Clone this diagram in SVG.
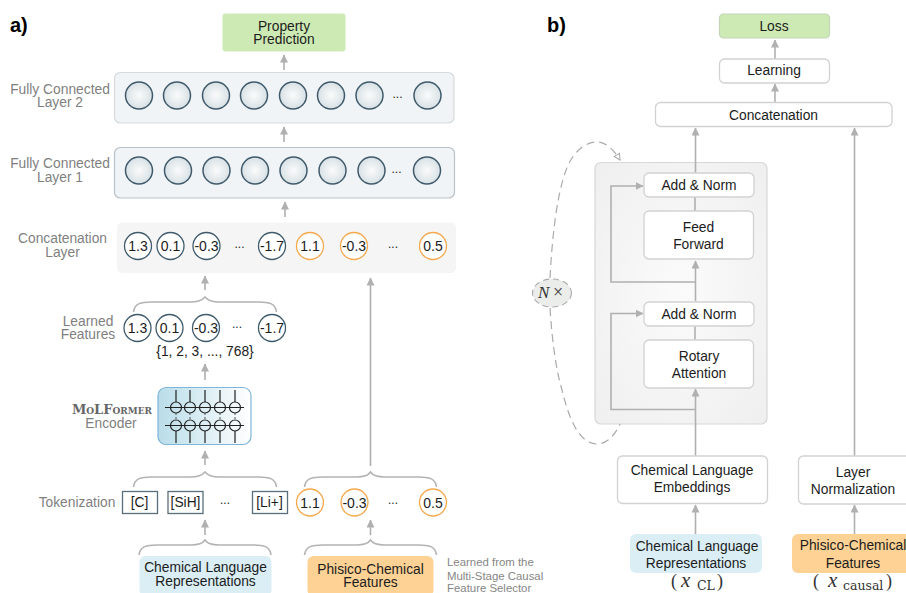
<svg xmlns="http://www.w3.org/2000/svg" width="906" height="593" viewBox="0 0 906 593">
<style>
text{font-family:"Liberation Sans",Arial,sans-serif;font-size:13.800px;fill:#1c1c1c;text-anchor:middle}
.g{fill:#7f7f7f}
.h{font-size:20px;font-weight:bold;fill:#000;text-anchor:start}
.s{font-size:11.400px;fill:#868686;text-anchor:start}
.v{font-size:14px}
.d{font-size:12px}
.m{font-family:"DejaVu Serif","Liberation Serif",serif;font-size:12.500px;fill:#333;text-anchor:start}
.i{font-family:"Liberation Serif",serif;font-style:italic;font-size:21px}
.p{font-family:"Liberation Serif",serif;font-size:18px}
.n{fill:url(#ng);stroke:#3f5a6b;stroke-width:1.5}
.c{fill:#fff;stroke:#3f5a6b;stroke-width:1.3}
.o{fill:#fff;stroke:#f5a94e;stroke-width:1.3}
.t{fill:#fff;stroke:#5a6f7c;stroke-width:1.3}
.b{fill:#fff;stroke:#d2d2d2;stroke-width:1.3}
.l{fill:none;stroke:#b0b0b0;stroke-width:1.6}
.br{fill:none;stroke:#b3b3b3;stroke-width:1.600}
.e{stroke:#222;stroke-width:1.200;fill:none}
.w{stroke:#222;stroke-width:1.200;fill:none}
.q{fill:none;stroke:#aaa;stroke-width:1.200;stroke-dasharray:8 5}
</style>
<defs>
<radialGradient id="ng"><stop offset="0" stop-color="#fafbfb"/><stop offset="1" stop-color="#d8e1e5"/></radialGradient>
<linearGradient id="eg"><stop offset="0" stop-color="#b9dde9"/><stop offset="1" stop-color="#ffffff"/></linearGradient>
<radialGradient id="bg" r=".75"><stop offset="0" stop-color="#fbfbfb"/><stop offset="1" stop-color="#eeeeee"/></radialGradient>
<marker id="a" markerUnits="userSpaceOnUse" markerWidth="9" markerHeight="9" refX="7.500" refY="4" orient="auto"><path d="M0 0L8 4L0 8Z" fill="#b0b0b0"/></marker>
<marker id="d" markerUnits="userSpaceOnUse" markerWidth="9" markerHeight="9" refX="7" refY="4" orient="auto"><path d="M1 1L7 4L1 7Z" fill="#fff" stroke="#aaa"/></marker>
<path id="br132" d="M0 15C1 6 8 5 18 5H52C60 5 64 3 66 0C68 3 72 5 80 5H114C124 5 131 6 132 15" class="br"/>
<path id="br143" d="M0 15C1 6 8 5 18 5H57C65 5 69 3 71.500 0C74 3 78 5 86 5H125C135 5 142 6 143 15" class="br"/>
<g id="nn"><circle r="13.500" class="n"/></g>
</defs>

<text class="h" x="10" y="32">a)</text>
<text class="h" x="547" y="32">b)</text>

<g id="connectors">
<path class="l" marker-end="url(#a)" d="M284 70V55"/>
<path class="l" marker-end="url(#a)" d="M284 142V127"/>
<path class="l" marker-end="url(#a)" d="M285 217V202"/>
<path class="l" marker-end="url(#a)" d="M205 290V276"/>
<path class="l" marker-end="url(#a)" d="M370.500 466V278"/>
<path class="l" marker-end="url(#a)" d="M205 380V364"/>
<path class="l" marker-end="url(#a)" d="M205 465V451"/>
<path class="l" marker-end="url(#a)" d="M205 535V520"/>
<path class="l" marker-end="url(#a)" d="M370.500 535V520"/>
<use href="#br143" x="133.500" y="297"/>
<use href="#br143" x="133.500" y="472"/>
<use href="#br132" x="139" y="540"/>
<use href="#br132" x="304.500" y="472"/>
<use href="#br132" x="304.500" y="540"/>
</g>

<g id="property"><rect x="222.500" y="13.500" width="123" height="38" rx="3" fill="#cdeab5"/><text x="284" y="31">Property</text><text x="284" y="44">Prediction</text></g>

<g id="fc2">
<text class="g" x="60" y="94">Fully Connected</text><text class="g" x="60" y="107">Layer 2</text>
<rect x="114.500" y="72.500" width="339.500" height="50.500" rx="6" fill="#f1f4f6" stroke="#d5dadd" stroke-width="1.200"/>
<use href="#nn" x="139" y="95.500"/><use href="#nn" x="177" y="95.500"/><use href="#nn" x="216" y="95.500"/><use href="#nn" x="254" y="95.500"/><use href="#nn" x="293" y="95.500"/><use href="#nn" x="331" y="95.500"/><use href="#nn" x="369.500" y="95.500"/><use href="#nn" x="427.500" y="95.500"/>
<text class="d" x="397.500" y="98">...</text>
</g>
<g id="fc1">
<text class="g" x="60" y="168">Fully Connected</text><text class="g" x="60" y="182">Layer 1</text>
<rect x="114.500" y="147.500" width="340" height="50.500" rx="6" fill="#f1f4f6" stroke="#b9c2c8" stroke-width="1.200"/>
<use href="#nn" x="139" y="170.500"/><use href="#nn" x="178" y="170.500"/><use href="#nn" x="216.500" y="170.500"/><use href="#nn" x="255" y="170.500"/><use href="#nn" x="293.500" y="170.500"/><use href="#nn" x="332.500" y="170.500"/><use href="#nn" x="371.500" y="170.500"/><use href="#nn" x="427" y="170.500"/>
<text class="d" x="396.500" y="173">...</text>
</g>
<g id="concat-layer">
<text class="g" x="62.500" y="243">Concatenation</text><text class="g" x="62.500" y="257">Layer</text>
<rect x="117" y="222.500" width="339" height="50.500" rx="5" fill="#f5f5f5"/>
<circle class="c" cx="138" cy="246" r="13.500"/><text class="v" x="138" y="251">1.3</text>
<circle class="c" cx="170.500" cy="246" r="13.500"/><text class="v" x="170.500" y="251">0.1</text>
<circle class="c" cx="206.500" cy="246" r="13.500"/><text class="v" x="206.500" y="251">-0.3</text>
<text class="d" x="239.500" y="248">...</text>
<circle class="c" cx="272" cy="246" r="13.500"/><text class="v" x="272" y="251">-1.7</text>
<circle class="o" cx="310" cy="246" r="13.500"/><text class="v" x="310" y="251">1.1</text>
<circle class="o" cx="354" cy="246" r="13.500"/><text class="v" x="354" y="251">-0.3</text>
<text class="d" x="393" y="248">...</text>
<circle class="o" cx="433" cy="246" r="13.500"/><text class="v" x="433" y="251">0.5</text>
</g>
<g id="learned">
<text class="g" x="88" y="326">Learned</text><text class="g" x="88" y="339">Features</text>
<circle class="c" cx="137.500" cy="328" r="13.500"/><text class="v" x="137.500" y="333">1.3</text>
<circle class="c" cx="169.500" cy="328" r="13.500"/><text class="v" x="169.500" y="333">0.1</text>
<circle class="c" cx="206" cy="328" r="13.500"/><text class="v" x="206" y="333">-0.3</text>
<text class="d" x="237" y="328">...</text>
<circle class="c" cx="272" cy="328" r="13.500"/><text class="v" x="272" y="333">-1.7</text>
<text x="205" y="356">{1, 2, 3, ..., 768}</text>
</g>
<g id="encoder">
<text x="112" y="414" style="font-family:'DejaVu Serif','Liberation Serif',serif;font-size:13px;font-weight:bold;fill:#666;font-variant:small-caps">MoLFormer</text>
<text class="g" x="111" y="428">Encoder</text>
<rect x="158" y="387.500" width="93" height="57" rx="8" fill="url(#eg)" stroke="#7fb5da" stroke-width="1.200"/>
<path class="e" d="M176 390V402M190 390V402M205 390V402M220 390V402M235 390V402M176 431V443M190 431V443M205 431V443M220 431V443M235 431V443M165 407.500H244M165 425.500H244"/>
<path fill="none" stroke="#555" stroke-width="1" stroke-dasharray="2 2" d="M176 413V420M190 413V420M205 413V420M220 413V420M235 413V420"/>
<circle class="w" cx="176" cy="407.500" r="5.500"/><circle class="w" cx="190" cy="407.500" r="5.500"/><circle class="w" cx="205" cy="407.500" r="5.500"/><circle class="w" cx="220" cy="407.500" r="5.500"/><circle class="w" cx="235" cy="407.500" r="5.500"/>
<circle class="w" cx="176" cy="425.500" r="5.500"/><circle class="w" cx="190" cy="425.500" r="5.500"/><circle class="w" cx="205" cy="425.500" r="5.500"/><circle class="w" cx="220" cy="425.500" r="5.500"/><circle class="w" cx="235" cy="425.500" r="5.500"/>
</g>
<g id="tokenization">
<text class="g" x="77" y="507">Tokenization</text>
<rect class="t" x="122.500" y="491.500" width="35" height="22"/><text x="139.500" y="507">[C]</text>
<rect class="t" x="168" y="491.500" width="35" height="22"/><text x="185.500" y="507">[SiH]</text>
<text class="d" x="225" y="504">...</text>
<rect class="t" x="252.500" y="491.500" width="35" height="22"/><text x="269.500" y="507">[Li+]</text>
</g>
<g id="causal-values">
<circle class="o" cx="310" cy="502.500" r="13.500"/><text class="v" x="310" y="507.500">1.1</text>
<circle class="o" cx="354.500" cy="502.500" r="13.500"/><text class="v" x="354.500" y="507.500">-0.3</text>
<text class="d" x="393" y="504">...</text>
<circle class="o" cx="433" cy="502.500" r="13.500"/><text class="v" x="433" y="507.500">0.5</text>
</g>
<g id="chem-a"><rect x="139.500" y="556" width="132" height="40" rx="6" fill="#dbeef5"/><text x="205.500" y="572">Chemical Language</text><text x="205.500" y="586">Representations</text></g>
<g id="phys-a"><rect x="307.500" y="556" width="126" height="40" rx="6" fill="#fdd294"/><text x="370.500" y="574">Phisico-Chemical</text><text x="370.500" y="587">Features</text></g>
<g id="note"><text class="s" x="447" y="566">Learned from the</text><text class="s" x="447" y="580">Multi-Stage Causal</text><text class="s" x="447" y="592">Feature Selector</text></g>

<g id="block"><rect x="595" y="162.500" width="172" height="261.500" rx="6" fill="url(#bg)" stroke="#d8d8d8" stroke-width="1.200"/></g>

<g id="connectors-b">
<path class="l" marker-end="url(#a)" d="M775 59V40"/>
<path class="l" marker-end="url(#a)" d="M775 102V84"/>
<path class="l" marker-end="url(#a)" d="M695.500 173V128"/>
<path class="l" d="M695 197V211"/>
<path class="l" marker-end="url(#a)" d="M695.500 301V261"/>
<path class="l" d="M695 326V340"/>
<path class="l" marker-end="url(#a)" d="M695.500 456V389"/>
<path class="l" marker-end="url(#a)" d="M695.500 534V505"/>
<path class="l" marker-end="url(#a)" d="M854.500 456V128"/>
<path class="l" marker-end="url(#a)" d="M854.500 534V505"/>
<path class="l" marker-end="url(#a)" d="M695.500 282H611V186H643"/>
<path class="l" marker-end="url(#a)" d="M695.500 409.500H611V313.500H643"/>
<path class="q" marker-end="url(#d)" d="M550 278C552 240 556 200 565 173C572 152 585 142 597 142C606 142 614 150 620 160"/>
<path class="q" d="M550 308C552 340 556 370 562 390C568 415 578 444 597 444C607 444 615 435 620 424"/>
</g>

<g id="loss"><rect x="719.500" y="14" width="110" height="24" rx="4" fill="#cdeab5" stroke="#c4d4ba" stroke-width="1.200"/><text x="774" y="31">Loss</text></g>
<g id="learning"><rect class="b" x="719.500" y="59" width="110" height="24" rx="5"/><text x="774" y="75">Learning</text></g>
<g id="concatenation"><rect class="b" x="655.500" y="102.500" width="236.500" height="24" rx="5"/><text x="773.500" y="120">Concatenation</text></g>
<g id="addnorm1"><rect class="b" x="644" y="173" width="110" height="24" rx="5"/><text x="699" y="190">Add &amp; Norm</text></g>
<g id="feed"><rect class="b" x="644" y="211" width="109.500" height="48" rx="5"/><text x="698.500" y="232">Feed</text><text x="698.500" y="249">Forward</text></g>
<g id="addnorm2"><rect class="b" x="644" y="302" width="110" height="24" rx="5"/><text x="699" y="319">Add &amp; Norm</text></g>
<g id="rotary"><rect class="b" x="644" y="340" width="109.500" height="48" rx="5"/><text x="699" y="361">Rotary</text><text x="699" y="378">Attention</text></g>
<g id="embeddings"><rect class="b" x="617.500" y="456" width="150" height="47.500" rx="5"/><text x="692" y="475">Chemical Language</text><text x="692" y="492">Embeddings</text></g>
<g id="layernorm"><rect class="b" x="798.500" y="456" width="112" height="48" rx="5"/><text x="853" y="477">Layer</text><text x="853" y="494">Normalization</text></g>
<g id="chem-b"><rect x="630" y="534" width="132" height="39" rx="6" fill="#dbeef5"/><text x="697" y="551">Chemical Language</text><text x="696" y="568">Representations</text></g>
<g id="phys-b"><rect x="792" y="534" width="120" height="39" rx="6" fill="#fdd294"/><text x="853" y="550">Phisico-Chemical</text><text x="853" y="568">Features</text></g>
<g id="xcl"><text class="m p" x="671" y="587">(</text><text class="m i" x="681" y="587">x</text><text class="m" x="697" y="590">CL</text><text class="m p" x="717" y="587">)</text></g>
<g id="xcausal"><text class="m p" x="813" y="587">(</text><text class="m i" x="828" y="587">x</text><text class="m" x="843" y="590">causal</text><text class="m p" x="886" y="587">)</text></g>
<g id="nx"><ellipse cx="552" cy="293" rx="19.500" ry="14" fill="#ebedeb" stroke="#aaa" stroke-width="1.100" stroke-dasharray="6 4"/><text class="m" x="538" y="298" style="font-family:'Liberation Serif',serif;font-style:italic;font-size:17px">N</text><text class="m" x="553" y="298" style="font-family:'Liberation Serif',serif;font-size:18px">×</text></g>
</svg>
